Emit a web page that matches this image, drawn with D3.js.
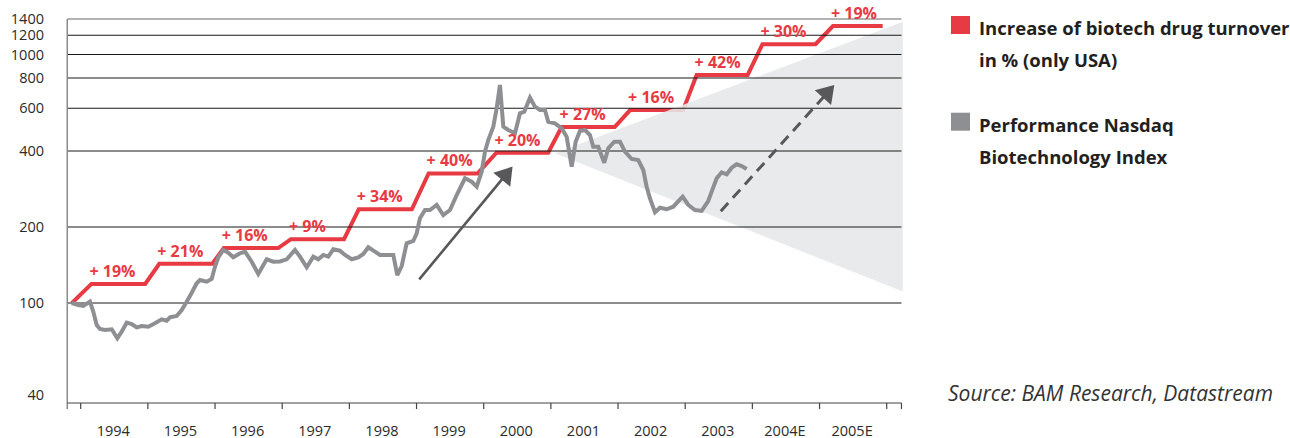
<!DOCTYPE html>
<html>
<head>
<meta charset="utf-8">
<script src="https://cdn.jsdelivr.net/npm/d3@7"></script>
<style>
  html, body { margin: 0; padding: 0; background: #ffffff; }
  svg { display: block; }
  text { font-family: "Open Sans", "DejaVu Sans", sans-serif; }
</style>
</head>
<body>
<svg id="chart" width="1290" height="438"></svg>
<script>
// ---------------- data ----------------
// Biotech drug turnover (step line), vertices
const turnoverDates  = [1993.87, 1994.16, 1994.96, 1995.17, 1995.96, 1996.13, 1996.94, 1997.13, 1997.92, 1998.14,
                        1998.93, 1999.18, 1999.91, 2000.19, 2000.96, 2001.16, 2001.95, 2002.18, 2002.97, 2003.17,
                        2003.93, 2004.15, 2004.94, 2005.20, 2005.94];
const turnoverValues = [100, 119, 119, 143, 143, 165, 165, 179, 179, 235,
                        235, 326, 326, 394, 394, 502, 502, 590, 590, 823,
                        823, 1102, 1102, 1310, 1310];
const stepLabels = ["+ 19%", "+ 21%", "+ 16%", "+ 9%", "+ 34%", "+ 40%", "+ 20%", "+ 27%", "+ 16%", "+ 42%", "+ 30%", "+ 19%"];

// Nasdaq Biotechnology Index performance (indexed, start = 100)
const nasdaqDates = [1993.866, 1993.964, 1994.039, 1994.138, 1994.188, 1994.238, 1994.287, 1994.362, 1994.462, 1994.545,
  1994.610, 1994.685, 1994.759, 1994.834, 1994.908, 1995.006, 1995.106, 1995.206, 1995.280, 1995.329,
  1995.429, 1995.504, 1995.578, 1995.653, 1995.727, 1995.776, 1995.876, 1995.950, 1995.999, 1996.049,
  1996.123, 1996.197, 1996.272, 1996.372, 1996.446, 1996.546, 1996.644, 1996.769, 1996.867, 1996.967,
  1997.067, 1997.190, 1997.265, 1997.365, 1997.463, 1997.537, 1997.612, 1997.686, 1997.761, 1997.860,
  1997.935, 1998.035, 1998.133, 1998.207, 1998.282, 1998.381, 1998.456, 1998.579, 1998.654, 1998.713,
  1998.779, 1998.853, 1998.952, 1999.002, 1999.051, 1999.126, 1999.200, 1999.300, 1999.398, 1999.498,
  1999.598, 1999.721, 1999.821, 1999.896, 1999.970, 2000.019, 2000.068, 2000.143, 2000.193, 2000.242,
  2000.292, 2000.366, 2000.466, 2000.540, 2000.604, 2000.689, 2000.763, 2000.838, 2000.912, 2000.961,
  2001.061, 2001.161, 2001.235, 2001.310, 2001.369, 2001.433, 2001.508, 2001.582, 2001.631, 2001.706,
  2001.795, 2001.855, 2001.944, 2002.029, 2002.103, 2002.203, 2002.301, 2002.376, 2002.426, 2002.475,
  2002.550, 2002.624, 2002.724, 2002.822, 2002.962, 2003.046, 2003.145, 2003.245, 2003.343, 2003.394,
  2003.469, 2003.543, 2003.618, 2003.692, 2003.766, 2003.841, 2003.915];
const nasdaqValues = [100, 98.2, 97.3, 101.2, 92.3, 81.7, 78.8, 78.1, 78.6, 72.4,
  76.9, 83.5, 82.5, 80.0, 81.0, 80.5, 83.0, 86.1, 85.0, 87.7,
  88.8, 93.8, 101.2, 109.8, 119.7, 123.3, 121.4, 124.5, 139.2, 151.7,
  162.2, 158.2, 151.7, 157.4, 159.7, 145.7, 130.3, 149.0, 145.7, 146.0,
  149.0, 162.2, 152.6, 138.5, 152.6, 149.0, 155.0, 152.6, 163.2, 161.1,
  155.0, 149.0, 151.7, 156.4, 166.2, 159.7, 155.0, 155.0, 155.0, 129.1,
  140.1, 172.4, 176.0, 188.8, 216.5, 233.5, 233.5, 244.5, 223.1, 233.5,
  267.8, 311.8, 302.3, 288.9, 331.3, 397.5, 444.0, 503.7, 599.8, 748.3,
  503.7, 488.2, 473.2, 572.2, 581.0, 663.6, 609.4, 590.3, 590.3, 528.2,
  520.3, 496.2, 458.1, 346.7, 436.9, 483.5, 488.2, 465.6, 416.7, 416.7,
  359.5, 410.4, 436.9, 436.9, 397.5, 371.9, 368.5, 336.4, 288.9, 259.9,
  228.7, 238.5, 235.1, 240.7, 263.7, 244.5, 233.5, 231.5, 253.5, 276.0,
  311.8, 329.4, 323.4, 343.5, 354.3, 348.9, 339.5];

// forecast wedge (date, value)
const wedgeDates  = [2001.06, 2006.24, 2006.24];
const wedgeValues = [392, 1365, 111];

// annotation arrows: [start date, start value, end date, end value]
const arrowSolid  = [1999.04, 124, 2000.43, 347];
const arrowDashed = [2003.53, 231, 2005.22, 748];

// axes
const yTicks = [40, 100, 200, 400, 600, 800, 1000, 1200, 1400];
const gridValues = [100, 200, 400, 600, 800, 1000, 1200];
const xTickYears = [1994, 1995, 1996, 1997, 1998, 1999, 2000, 2001, 2002, 2003, 2004, 2005, 2006];
const xLabels = ["1994", "1995", "1996", "1997", "1998", "1999", "2000", "2001", "2002", "2003", "2004E", "2005E"];
const xStart = 1993.8, xEnd = 2006.22;

const legendItems = [
  { color: "#e83a43", lines: ["Increase of biotech drug turnover", "in % (only USA)"] },
  { color: "#8e8f93", lines: ["Performance Nasdaq", "Biotechnology Index"] }
];
const sourceText = "Source: BAM Research, Datastream";

// ---------------- drawing ----------------
const RED = "#e83a43", GREY = "#8e8f93";
const svg = d3.select("#chart");

const x = d3.scaleLinear().domain([1994, 2006]).range([80.7, 886.7]);
const y = d3.scaleLog().domain([40, 100, 400, 1400]).range([403, 303, 151, 19]);

const xL = x(xStart), xR = x(xEnd);

// red step line
const lineGen = d3.line().x(d => x(d[0])).y(d => y(d[1]));
const redPts = turnoverDates.map((d, i) => [d, turnoverValues[i]]);
svg.append("path")
  .attr("d", lineGen(redPts))
  .attr("fill", "none")
  .attr("stroke", RED)
  .attr("stroke-width", 4)
  .attr("stroke-linejoin", "miter");

// wedge
const wedgePts = wedgeDates.map((d, i) => [x(d), y(wedgeValues[i])]);
svg.append("polygon")
  .attr("points", wedgePts.map(p => p.join(",")).join(" "))
  .attr("fill", "#e6e7e8")
  .attr("fill-opacity", 0.88);

// gridlines
svg.append("g").selectAll("line").data(gridValues).join("line")
  .attr("x1", xL).attr("x2", xR)
  .attr("y1", d => y(d)).attr("y2", d => y(d))
  .attr("stroke", "#1a1a1a").attr("stroke-width", 1.1);
// top frame line (1400)
svg.append("line")
  .attr("x1", xL).attr("x2", xR).attr("y1", y(1400)).attr("y2", y(1400))
  .attr("stroke", "#666").attr("stroke-width", 1);

// y axis line
svg.append("line")
  .attr("x1", xL).attr("x2", xL).attr("y1", y(1400)).attr("y2", y(40) + 6)
  .attr("stroke", "#8a8a8a").attr("stroke-width", 1.5);

// x axis line & ticks
svg.append("line")
  .attr("x1", xL).attr("x2", xR).attr("y1", y(40)).attr("y2", y(40))
  .attr("stroke", "#444").attr("stroke-width", 1.2);
svg.append("g").selectAll("line").data(xTickYears.concat([xEnd])).join("line")
  .attr("x1", d => x(d)).attr("x2", d => x(d))
  .attr("y1", y(40)).attr("y2", y(40) + 6)
  .attr("stroke", "#444").attr("stroke-width", 1.2);

// x labels
svg.append("g").selectAll("text").data(xLabels).join("text")
  .attr("x", (d, i) => (x(xTickYears[i]) + x(xTickYears[i] + 1)) / 2 - 1)
  .attr("y", 435.5)
  .attr("text-anchor", "middle")
  .attr("font-size", 14.5)
  .attr("fill", "#2b2b2b")
  .text(d => d);

// y labels
svg.append("g").selectAll("text").data(yTicks).join("text")
  .attr("x", 44)
  .attr("y", d => (d === 40 ? y(d) - 8 : y(d)))
  .attr("dy", "0.35em")
  .attr("text-anchor", "end")
  .attr("font-size", 14.5)
  .attr("fill", "#2b2b2b")
  .text(d => d);

// grey Nasdaq line
const greyPts = nasdaqDates.map((d, i) => [d, nasdaqValues[i]]);
svg.append("path")
  .attr("d", lineGen(greyPts))
  .attr("fill", "none")
  .attr("stroke", GREY)
  .attr("stroke-width", 4)
  .attr("stroke-linejoin", "miter")
  .attr("stroke-miterlimit", 3);

// arrows
function drawArrow(a, dashed) {
  const x0 = x(a[0]), y0 = y(a[1]), x1 = x(a[2]), y1 = y(a[3]);
  const dx = x1 - x0, dy = y1 - y0, len = Math.hypot(dx, dy);
  const ux = dx / len, uy = dy / len, px = -uy, py = ux;
  const hl = 17, hw = 11;
  const bx = x1 - ux * hl, by = y1 - uy * hl;
  svg.append("line")
    .attr("x1", x0).attr("y1", y0).attr("x2", bx + ux * 2).attr("y2", by + uy * 2)
    .attr("stroke", "#58585a").attr("stroke-width", dashed ? 3 : 2.6)
    .attr("stroke-dasharray", dashed ? "11,7" : null);
  svg.append("polygon")
    .attr("points", [[x1, y1], [bx + px * hw, by + py * hw], [bx - px * hw, by - py * hw]].map(p => p.join(",")).join(" "))
    .attr("fill", "#58585a");
}
drawArrow(arrowSolid, false);
drawArrow(arrowDashed, true);

// step labels
svg.append("g").selectAll("text").data(stepLabels).join("text")
  .attr("x", (d, i) => x(turnoverDates[2 * i + 1]) - 2)
  .attr("y", (d, i) => y(turnoverValues[2 * i + 1]) - 7)
  .attr("font-size", 16)
  .attr("font-weight", 700)
  .attr("fill", RED)
  .text(d => d);

// legend
const lg = svg.append("g");
legendItems.forEach((it, i) => {
  const top = 16 + i * 96.7;
  lg.append("rect").attr("x", 951).attr("y", top).attr("width", 19).attr("height", 18).attr("fill", it.color);
  it.lines.forEach((t, j) => {
    lg.append("text")
      .attr("x", 979)
      .attr("y", top + 19 + j * 32)
      .attr("font-size", 18.5)
      .attr("font-weight", 700)
      .attr("fill", "#231f20")
      .text(t);
  });
});

// source
svg.append("text")
  .attr("x", 948)
  .attr("y", 401)
  .attr("font-size", 21)
  .attr("font-style", "italic")
  .attr("fill", "#333")
  .text(sourceText);
</script>
</body>
</html>
